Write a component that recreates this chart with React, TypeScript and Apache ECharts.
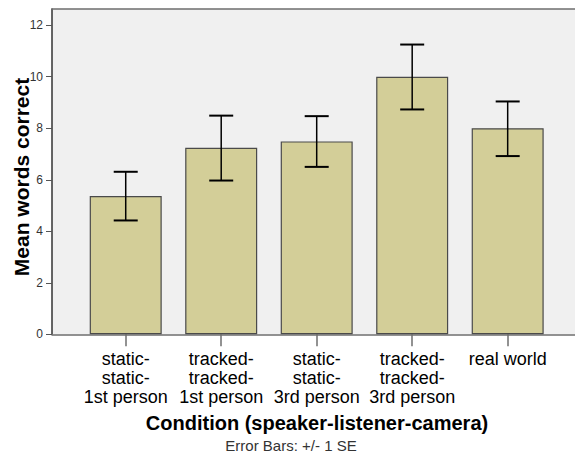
import React, { useEffect, useRef } from "react";
import * as echarts from "echarts";

const categories = [
  "static-\nstatic-\n1st person",
  "tracked-\ntracked-\n1st person",
  "static-\nstatic-\n3rd person",
  "tracked-\ntracked-\n3rd person",
  "real world",
];
const means = [5.37, 7.24, 7.49, 10.0, 8.0];
const lower = [4.42, 5.97, 6.5, 8.73, 6.92];
const upper = [6.31, 8.49, 8.47, 11.25, 9.04];
const yTicks = [0, 2, 4, 6, 8, 10, 12];

const FONT = '"Liberation Sans", Arial, sans-serif';

export default function App() {
  const ref = useRef<HTMLDivElement>(null);
  useEffect(() => {
    if (!ref.current) return;
    const chart = echarts.init(ref.current, null, { renderer: "svg" });
    const idx = categories.map((_, i) => i);
    const xMin = -0.772;
    const xMax = 4.705;
    chart.setOption({
      animation: false,
      grid: {
        left: 52,
        right: 0,
        top: 9,
        bottom: 131.7,
        show: true,
        backgroundColor: "#f0f0f0",
        borderWidth: 0,
      },
      xAxis: [
        {
          type: "value",
          min: xMin,
          max: xMax,
          position: "bottom",
          axisLine: { show: true, onZero: false, lineStyle: { color: "#6e6e6e", width: 1.5 } },
          axisTick: {
            show: true,
            customValues: idx,
            length: 12,
            lineStyle: { color: "#6e6e6e", width: 1.5 },
          },
          axisLabel: {
            customValues: idx,
            formatter: (v: number) => categories[Math.round(v)] ?? "",
            margin: 15,
            fontFamily: FONT,
            fontSize: 18,
            lineHeight: 19,
            color: "#000",
            align: "center",
            verticalAlign: "top",
          },
          splitLine: { show: false },
        },
        {
          type: "value",
          min: xMin,
          max: xMax,
          position: "top",
          axisLine: { show: true, onZero: false, lineStyle: { color: "#6e6e6e", width: 1.5 } },
          axisTick: { show: false },
          axisLabel: { show: false },
          splitLine: { show: false },
        },
      ],
      yAxis: {
        type: "value",
        min: 0,
        max: 12.63,
        position: "left",
        axisLine: { show: true, onZero: false, lineStyle: { color: "#333", width: 1.5 } },
        axisTick: {
          show: true,
          customValues: yTicks,
          length: 6,
          lineStyle: { color: "#555", width: 1 },
        },
        axisLabel: {
          customValues: yTicks,
          margin: 9,
          fontFamily: FONT,
          fontSize: 12,
          color: "#333",
        },
        splitLine: { show: false },
      },
      graphic: [
        {
          type: "text",
          x: 21,
          y: 177,
          rotation: Math.PI / 2,
          style: {
            text: "Mean words correct",
            font: `bold 21px ${FONT}`,
            fill: "#000",
            align: "center",
            verticalAlign: "middle",
          },
        },
        {
          type: "text",
          x: 317,
          y: 423,
          style: {
            text: "Condition (speaker-listener-camera)",
            font: `bold 20px ${FONT}`,
            fill: "#000",
            align: "center",
            verticalAlign: "middle",
          },
        },
        {
          type: "text",
          x: 291,
          y: 445,
          style: {
            text: "Error Bars: +/- 1 SE",
            font: `15px ${FONT}`,
            fill: "#333",
            align: "center",
            verticalAlign: "middle",
          },
        },
      ],
      series: [
        {
          type: "bar",
          xAxisIndex: 0,
          barWidth: 72,
          data: means.map((m, i) => [i, m]),
          itemStyle: { color: "#d3ce98", borderColor: "#4a4a4a", borderWidth: 1.2 },
        },
        {
          type: "custom",
          xAxisIndex: 0,
          data: idx.map((i) => [i, lower[i], upper[i]]),
          renderItem: (params: any, api: any) => {
            const x = api.value(0);
            const lo = api.coord([x, api.value(1)]);
            const hi = api.coord([x, api.value(2)]);
            const half = 12;
            const style = { stroke: "#000", lineWidth: 1.5 };
            return {
              type: "group",
              children: [
                { type: "line", shape: { x1: hi[0], y1: hi[1], x2: lo[0], y2: lo[1] }, style },
                { type: "line", shape: { x1: hi[0] - half, y1: hi[1], x2: hi[0] + half, y2: hi[1] }, style: { stroke: "#000", lineWidth: 2 } },
                { type: "line", shape: { x1: lo[0] - half, y1: lo[1], x2: lo[0] + half, y2: lo[1] }, style: { stroke: "#000", lineWidth: 2 } },
              ],
            };
          },
          z: 10,
        },
      ],
    });
    return () => chart.dispose();
  }, []);
  return (
    <div
      ref={ref}
      style={{ position: "fixed", left: 0, top: 0, width: 575, height: 466, background: "#fff" }}
    />
  );
}
